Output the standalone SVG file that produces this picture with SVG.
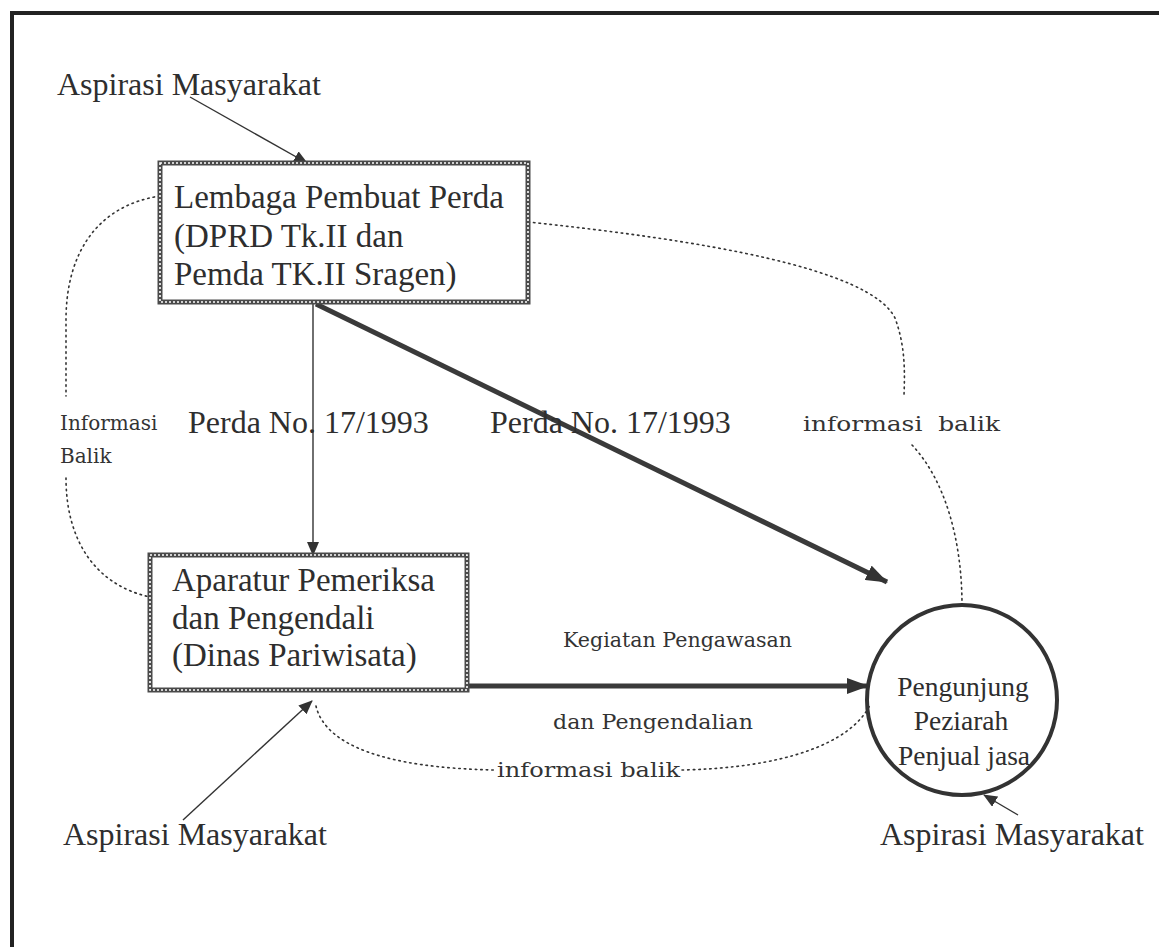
<svg xmlns="http://www.w3.org/2000/svg" width="1159" height="947" viewBox="0 0 1159 947">
<style>
.t{font-family:"Liberation Serif","Times New Roman",serif;font-size:32px;fill:#2e2e2e}
.b{font-size:33px}
.c{font-size:27.5px}
.s{font-family:"DejaVu Serif",serif;font-size:20px;fill:#333}
.thin{stroke:#333;stroke-width:1.4;fill:none}
.thick{stroke:#3a3a3a;stroke-width:5;fill:none}
.dot{stroke:#333;stroke-width:1.6;fill:none;stroke-dasharray:1.5 4;stroke-linecap:round}
.bx{fill:none;stroke:#4a4a4a;stroke-width:5}
.bxi{fill:none;stroke:#fff;stroke-width:1.6;stroke-dasharray:2 2}
</style>
<defs>
<marker id="a" markerUnits="userSpaceOnUse" markerWidth="14" markerHeight="12" refX="13" refY="6" orient="auto"><path d="M0,0 L14,6 L0,12 z" fill="#333"/></marker>
<marker id="A" markerUnits="userSpaceOnUse" markerWidth="22" markerHeight="16" refX="21" refY="8" orient="auto"><path d="M0,0 L22,8 L0,16 z" fill="#333"/></marker>
</defs>
<rect width="1159" height="947" fill="#fff"/>
<path d="M12,947 V13 H1159" fill="none" stroke="#222" stroke-width="4"/>

<g id="connectors">
<path class="thin" d="M190,97 L307,163" marker-end="url(#a)"/>
<path class="thin" d="M313,302 L313,555" marker-end="url(#a)"/>
<path class="thick" d="M316,304 L887,582" marker-end="url(#A)"/>
<path class="thick" d="M467,686 L868,686" stroke-width="4" marker-end="url(#A)"/>
<path class="thin" d="M183,820 L312,701" marker-end="url(#a)"/>
<path class="thin" d="M1018,815 L984,795" marker-end="url(#a)"/>
<path class="dot" d="M160,196 C100,205 66,250 66,320 L66,396"/>
<path class="dot" d="M66,478 C66,540 95,585 150,597"/>
<path class="dot" d="M528,222 C700,240 870,268 895,318 C905,345 905,370 904,395"/>
<path class="dot" d="M912,445 C945,480 962,540 962,605"/>
<path class="dot" d="M316,706 C325,745 385,768 495,770"/>
<path class="dot" d="M682,770 C780,768 850,745 870,705"/>
</g>

<g id="aspirasi-top"><text class="t" x="57" y="95">Aspirasi Masyarakat</text></g>

<g id="lembaga">
<rect class="bx" x="160" y="163" width="368" height="139"/>
<rect class="bxi" x="160" y="163" width="368" height="139"/>
<text class="t b" x="174" y="208">Lembaga Pembuat Perda</text>
<text class="t b" x="174" y="247">(DPRD Tk.II dan</text>
<text class="t b" x="174" y="285">Pemda TK.II Sragen)</text>
</g>

<g id="label-info-left">
<text class="s" x="60" y="430" font-size="18">Informasi</text>
<text class="s" x="60" y="463" font-size="18">Balik</text>
</g>
<g id="label-perda1"><text class="t" x="188" y="433" font-size="32.5">Perda No. 17/1993</text></g>
<g id="label-perda2"><text class="t" x="490" y="433" font-size="32.5">Perda No. 17/1993</text></g>
<g id="label-info-right"><text class="s" x="803" y="431" font-size="21" textLength="197" lengthAdjust="spacingAndGlyphs" xml:space="preserve">informasi  balik</text></g>

<g id="aparatur">
<rect class="bx" x="150" y="555" width="317" height="135"/>
<rect class="bxi" x="150" y="555" width="317" height="135"/>
<text class="t b" x="172" y="591">Aparatur Pemeriksa</text>
<text class="t b" x="172" y="629">dan Pengendali</text>
<text class="t b" x="172" y="666">(Dinas Pariwisata)</text>
</g>

<g id="label-kegiatan">
<text class="s" x="563" y="647" textLength="229" lengthAdjust="spacingAndGlyphs">Kegiatan Pengawasan</text>
<text class="s" x="553" y="729" font-size="21" textLength="200" lengthAdjust="spacingAndGlyphs">dan Pengendalian</text>
</g>

<g id="pengunjung">
<circle cx="962" cy="700" r="95" fill="none" stroke="#333" stroke-width="4"/>
<text class="t c" x="963" y="696" text-anchor="middle">Pengunjung</text>
<text class="t c" x="961" y="730" text-anchor="middle">Peziarah</text>
<text class="t c" x="964" y="765" text-anchor="middle">Penjual jasa</text>
</g>

<g id="label-info-bottom"><text class="s" x="497" y="777" font-size="21" textLength="183" lengthAdjust="spacingAndGlyphs">informasi balik</text></g>
<g id="aspirasi-bl"><text class="t" x="63" y="845" font-size="31">Aspirasi Masyarakat</text></g>
<g id="aspirasi-br"><text class="t" x="880" y="845">Aspirasi Masyarakat</text></g>
</svg>
